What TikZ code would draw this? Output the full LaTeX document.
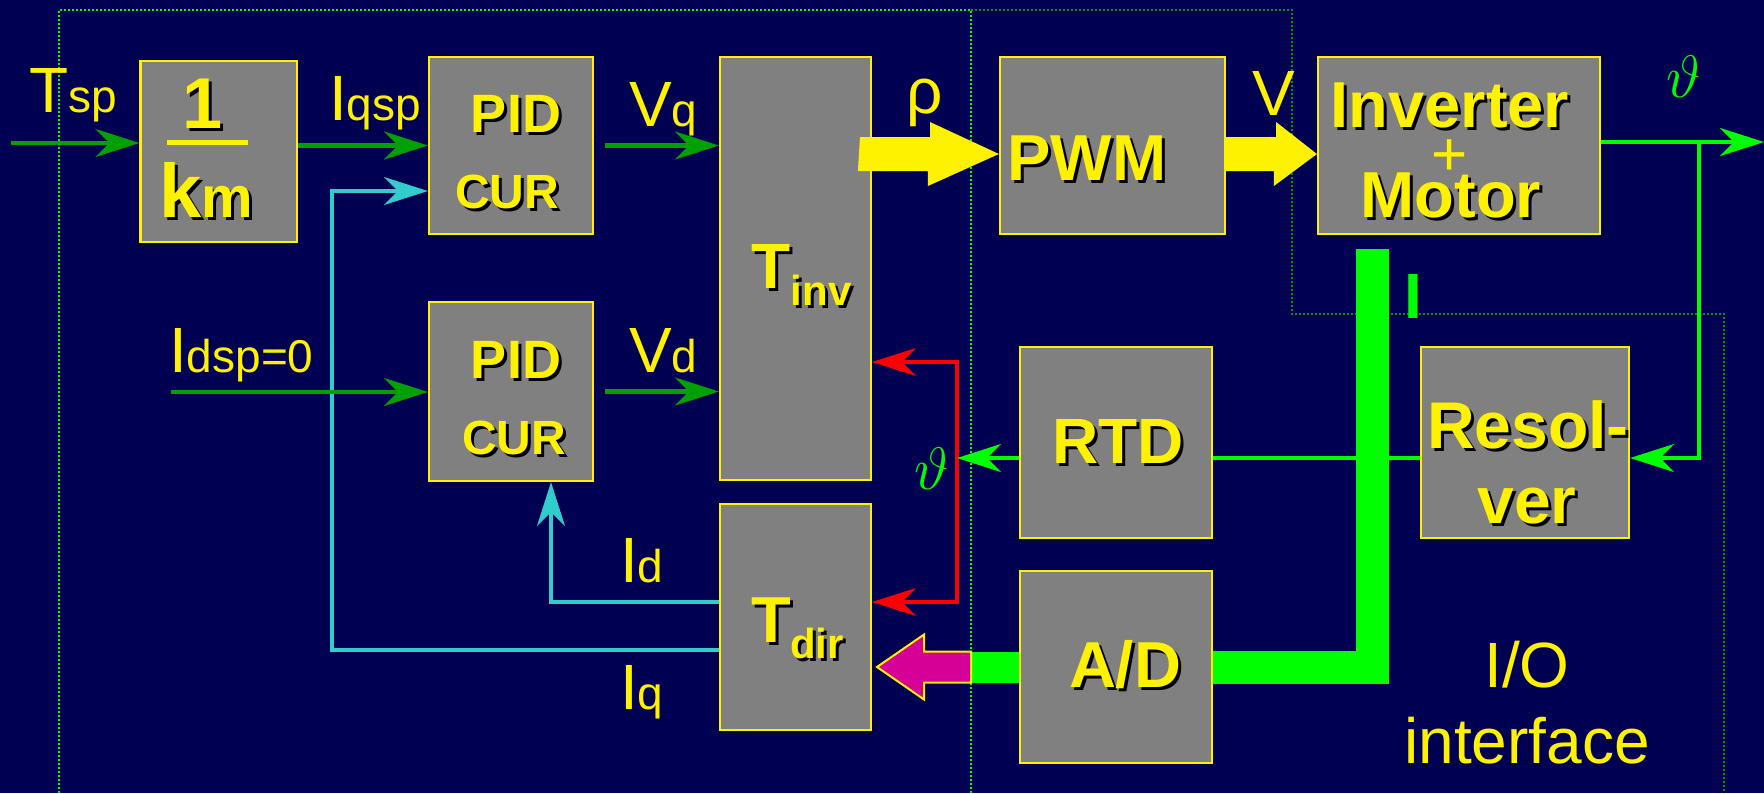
\documentclass[tikz,border=0pt]{standalone}
\usepackage{fix-cm}
\usepackage{fontspec}
\setmainfont{Liberation Sans}
\usepackage{tikz}
\usetikzlibrary{arrows.meta}
\definecolor{navybg}{RGB}{0,0,82}
\definecolor{boxgray}{RGB}{128,128,128}
\definecolor{ingreen}{RGB}{0,160,0}
\definecolor{brightgreen}{RGB}{0,255,0}
\definecolor{dimgreen}{RGB}{0,150,0}
\definecolor{cyanline}{RGB}{51,204,204}
\definecolor{magarrow}{RGB}{214,0,150}
\newcommand{\setfs}[1]{\fontsize{#1}{#1}\selectfont}
\newcommand{\shtxt}[1]{\leavevmode\rlap{\kern3pt\raisebox{-3pt}{\color{black}#1}}#1}

\begin{document}
\begin{tikzpicture}[x=1pt,y=-1pt,
	>={Stealth[length=44pt,width=28pt,inset=14pt]},
	blk/.style={draw=yellow,fill=boxgray,line width=2.2pt,inner sep=0pt},
	boxtxt/.style={text=yellow,inner sep=0pt,anchor=base},
	lbl/.style={text=yellow,inner sep=0pt,anchor=base west},
	inarrow/.style={draw=ingreen,line width=4.5pt,->},
	thline/.style={draw=brightgreen,line width=4pt},
	fbred/.style={draw=red,line width=4pt},
	fbcyan/.style={draw=cyanline,line width=4pt},
	bus/.style={draw=brightgreen,line width=33pt},
	zonedot/.style={draw=brightgreen,line width=2pt,dash pattern=on 2pt off 2pt},
	iodot/.style={draw=dimgreen,line width=1.6pt,dash pattern=on 1.6pt off 2.4pt},
	fatarrow/.style={fill=yellow}]
	\fill[navybg] (0,0) rectangle (1764,793);
	\useasboundingbox (0,0) rectangle (1764,793);
	% zones
	\draw[zonedot] (59,793) -- (59,10) -- (971,10) -- (971,793);
	\draw[iodot] (971,10) -- (1292,10) -- (1292,314) -- (1724,314) -- (1724,793);
	% blocks
	\node[blk,minimum width=156.5pt,minimum height=181pt] (km) at (218.75,151.5) {};
	\node[blk,minimum width=164pt,minimum height=177pt] (pidq) at (511,145.5) {};
	\node[blk,minimum width=164pt,minimum height=179pt] (pidd) at (511,391.5) {};
	\node[blk,minimum width=151pt,minimum height=423pt] (tinv) at (795.5,268.5) {};
	\node[blk,minimum width=151pt,minimum height=226pt] (tdir) at (795.5,617) {};
	\node[blk,minimum width=225pt,minimum height=177pt] (pwm) at (1112.5,145.5) {};
	\node[blk,minimum width=282pt,minimum height=177pt] (invm) at (1459,145.5) {};
	\node[blk,minimum width=192pt,minimum height=191pt] (rtd) at (1116,442.5) {};
	\node[blk,minimum width=208pt,minimum height=191pt] (resolver) at (1525,442.5) {};
	\node[blk,minimum width=192pt,minimum height=192pt] (ad) at (1116,667) {};
	% block texts
	\node[boxtxt,font=\bfseries\setfs{72}] (km-one) at (203,128) {\shtxt{1}};
	\draw[yellow,line width=5pt] (167,142) -- (248,142);
	\node[boxtxt,font=\bfseries] (km-den) at (206,217) {\shtxt{{\setfs{76}k}{\setfs{58}m}}};
	\node[boxtxt,font=\bfseries\setfs{54}] (pidq-a) at (516,132) {\shtxt{PID}};
	\node[boxtxt,font=\bfseries\setfs{48}] (pidq-b) at (507,208) {\shtxt{CUR}};
	\node[boxtxt,font=\bfseries\setfs{54}] (pidd-a) at (516,378) {\shtxt{PID}};
	\node[boxtxt,font=\bfseries\setfs{48}] (pidd-b) at (514,454) {\shtxt{CUR}};
	\node[boxtxt,font=\bfseries\setfs{64}] (tinv-a) at (771,288) {\shtxt{T}};
	\node[boxtxt,font=\bfseries\setfs{42}] (tinv-b) at (821,305) {\shtxt{inv}};
	\node[boxtxt,font=\bfseries\setfs{65}] (tdir-a) at (771,642) {\shtxt{T}};
	\node[boxtxt,font=\bfseries\setfs{42}] (tdir-b) at (817,658) {\shtxt{dir}};
	\node[boxtxt,font=\bfseries\setfs{65}] (pwm-t) at (1087,180) {\shtxt{PWM}};
	\node[boxtxt,font=\bfseries\setfs{65}] (invm-a) at (1450,127) {\shtxt{Inverter}};
	\node[text=yellow,inner sep=0pt,font=\setfs{62}] (invm-b) at (1450,158) {+};
	\node[boxtxt,font=\bfseries\setfs{65}] (invm-c) at (1451,217) {\shtxt{Motor}};
	\node[boxtxt,font=\bfseries\setfs{64}] (rtd-t) at (1118,463) {\shtxt{RTD}};
	\node[boxtxt,font=\bfseries\setfs{66}] (res-a) at (1528,448) {\shtxt{Resol-}};
	\node[boxtxt,font=\bfseries\setfs{66}] (res-b) at (1527,523) {\shtxt{ver}};
	\node[boxtxt,font=\bfseries\setfs{65}] (ad-t) at (1125,687) {\shtxt{A/D}};
	% signal labels
	\node[lbl] (tsp) at (29,112) {\setfs{64}T\setfs{46}sp};
	\node[lbl] (iqsp) at (329,120) {\setfs{64}I\setfs{46}qsp};
	\node[lbl] (vq) at (629,126) {\setfs{64}V\setfs{46}q};
	\node[lbl] (idsp) at (169,372) {\setfs{64}I\setfs{46}dsp=0};
	\node[lbl] (vd) at (629,372) {\setfs{64}V\setfs{46}d};
	\node[lbl] (id) at (620,582) {\setfs{64}I\setfs{46}d};
	\node[lbl] (iq) at (620,709) {\setfs{64}I\setfs{46}q};
	\node[boxtxt,font=\setfs{64}] (rho) at (925,113) {ρ};
	\node[boxtxt,font=\setfs{64}] (vlbl) at (1274,115) {V};
	\node[text=brightgreen,inner sep=0pt,font=\setfs{60}] (thrtd) at (932,469) {$\vartheta$};
	\node[text=brightgreen,inner sep=0pt,font=\setfs{60}] (thout) at (1684,77) {$\vartheta$};
	\node[boxtxt,text=brightgreen,font=\bfseries\setfs{64}] (curlbl) at (1413,318) {I};
	\node[boxtxt,font=\setfs{64}] (io) at (1527,687) {I/O};
	\node[boxtxt,font=\setfs{64}] (iface) at (1527,763) {interface};
	% wiring points
	\coordinate (tspin) at (11,143);
	\coordinate (idspin) at (171,392);
	\coordinate (iqlo) at (332,650);
	\coordinate (iqhi) at (332,191);
	\coordinate (idlo) at (551,602);
	\coordinate (redtop) at (957,362);
	\coordinate (redbot) at (957,602);
	\coordinate (thtap) at (1699,142);
	\coordinate (thend) at (1764,142);
	\coordinate (thback) at (1699,458);
	\coordinate (bustop) at (1372,249);
	\coordinate (magtail) at (971,667);
	\coordinate (rhotail) at (860,154);
	% feedback wires
	\draw[fbcyan,->] (iqlo -| tdir.west) -- (iqlo) -- (iqhi) -- (iqhi -| pidq.west);
	\draw[fbcyan,->] (idlo -| tdir.west) -- (idlo) -- (idlo |- pidd.south);
	\draw[fbred,<->] (redtop -| tinv.east) -- (redtop) -- (redbot) -- (redbot -| tdir.east);
	\draw[thline,->] (thback -| rtd.west) -- (thback -| redtop);
	\draw[thline] (thback -| resolver.west) -- (thback -| rtd.east);
	\draw[thline,->] (thtap -| invm.east) -- (thend);
	\draw[thline,->] (thtap) -- (thback) -- (thback -| resolver.east);
	% inputs
	\draw[inarrow] (tspin) -- (tspin -| km.west);
	\draw[inarrow] (km.east |- pidq.west) -- (pidq.west);
	\draw[inarrow] ([xshift=11pt]pidq.east) -- (pidq.east -| tinv.west);
	\draw[inarrow] (idspin) -- (idspin -| pidd.west);
	\draw[inarrow] ([xshift=11pt]pidd.east) -- (pidd.east -| tinv.west);
	% current bus
	\draw[bus] (bustop) -- (bustop |- ad.east) -- (ad.east);
	\draw[bus,line width=31pt] (ad.west) -- (magtail);
	\filldraw[fill=magarrow,draw=yellow,line width=2pt] (magtail) ++(0,-15.5) -- ++(-47,0) -- ++(0,-17) -- ++(-47,32.5) -- ++(47,32.5) -- ++(0,-17) -- ++(47,0) -- cycle;
	% fat arrows
	\fill[fatarrow] (rhotail) ++(0,-17) -- ++(70,0) -- ++(0,-15) -- (rhotail -| pwm.west) -- ++(-71,32) -- ++(0,-15) -- ++(-70,0) -- cycle;
	\fill[fatarrow] (rhotail -| pwm.east) ++(0,-17) -- ++(50,0) -- ++(0,-15) -- (rhotail -| invm.west) -- ++(-43,32) -- ++(0,-15) -- ++(-50,0) -- cycle;
\end{tikzpicture}
\end{document}
